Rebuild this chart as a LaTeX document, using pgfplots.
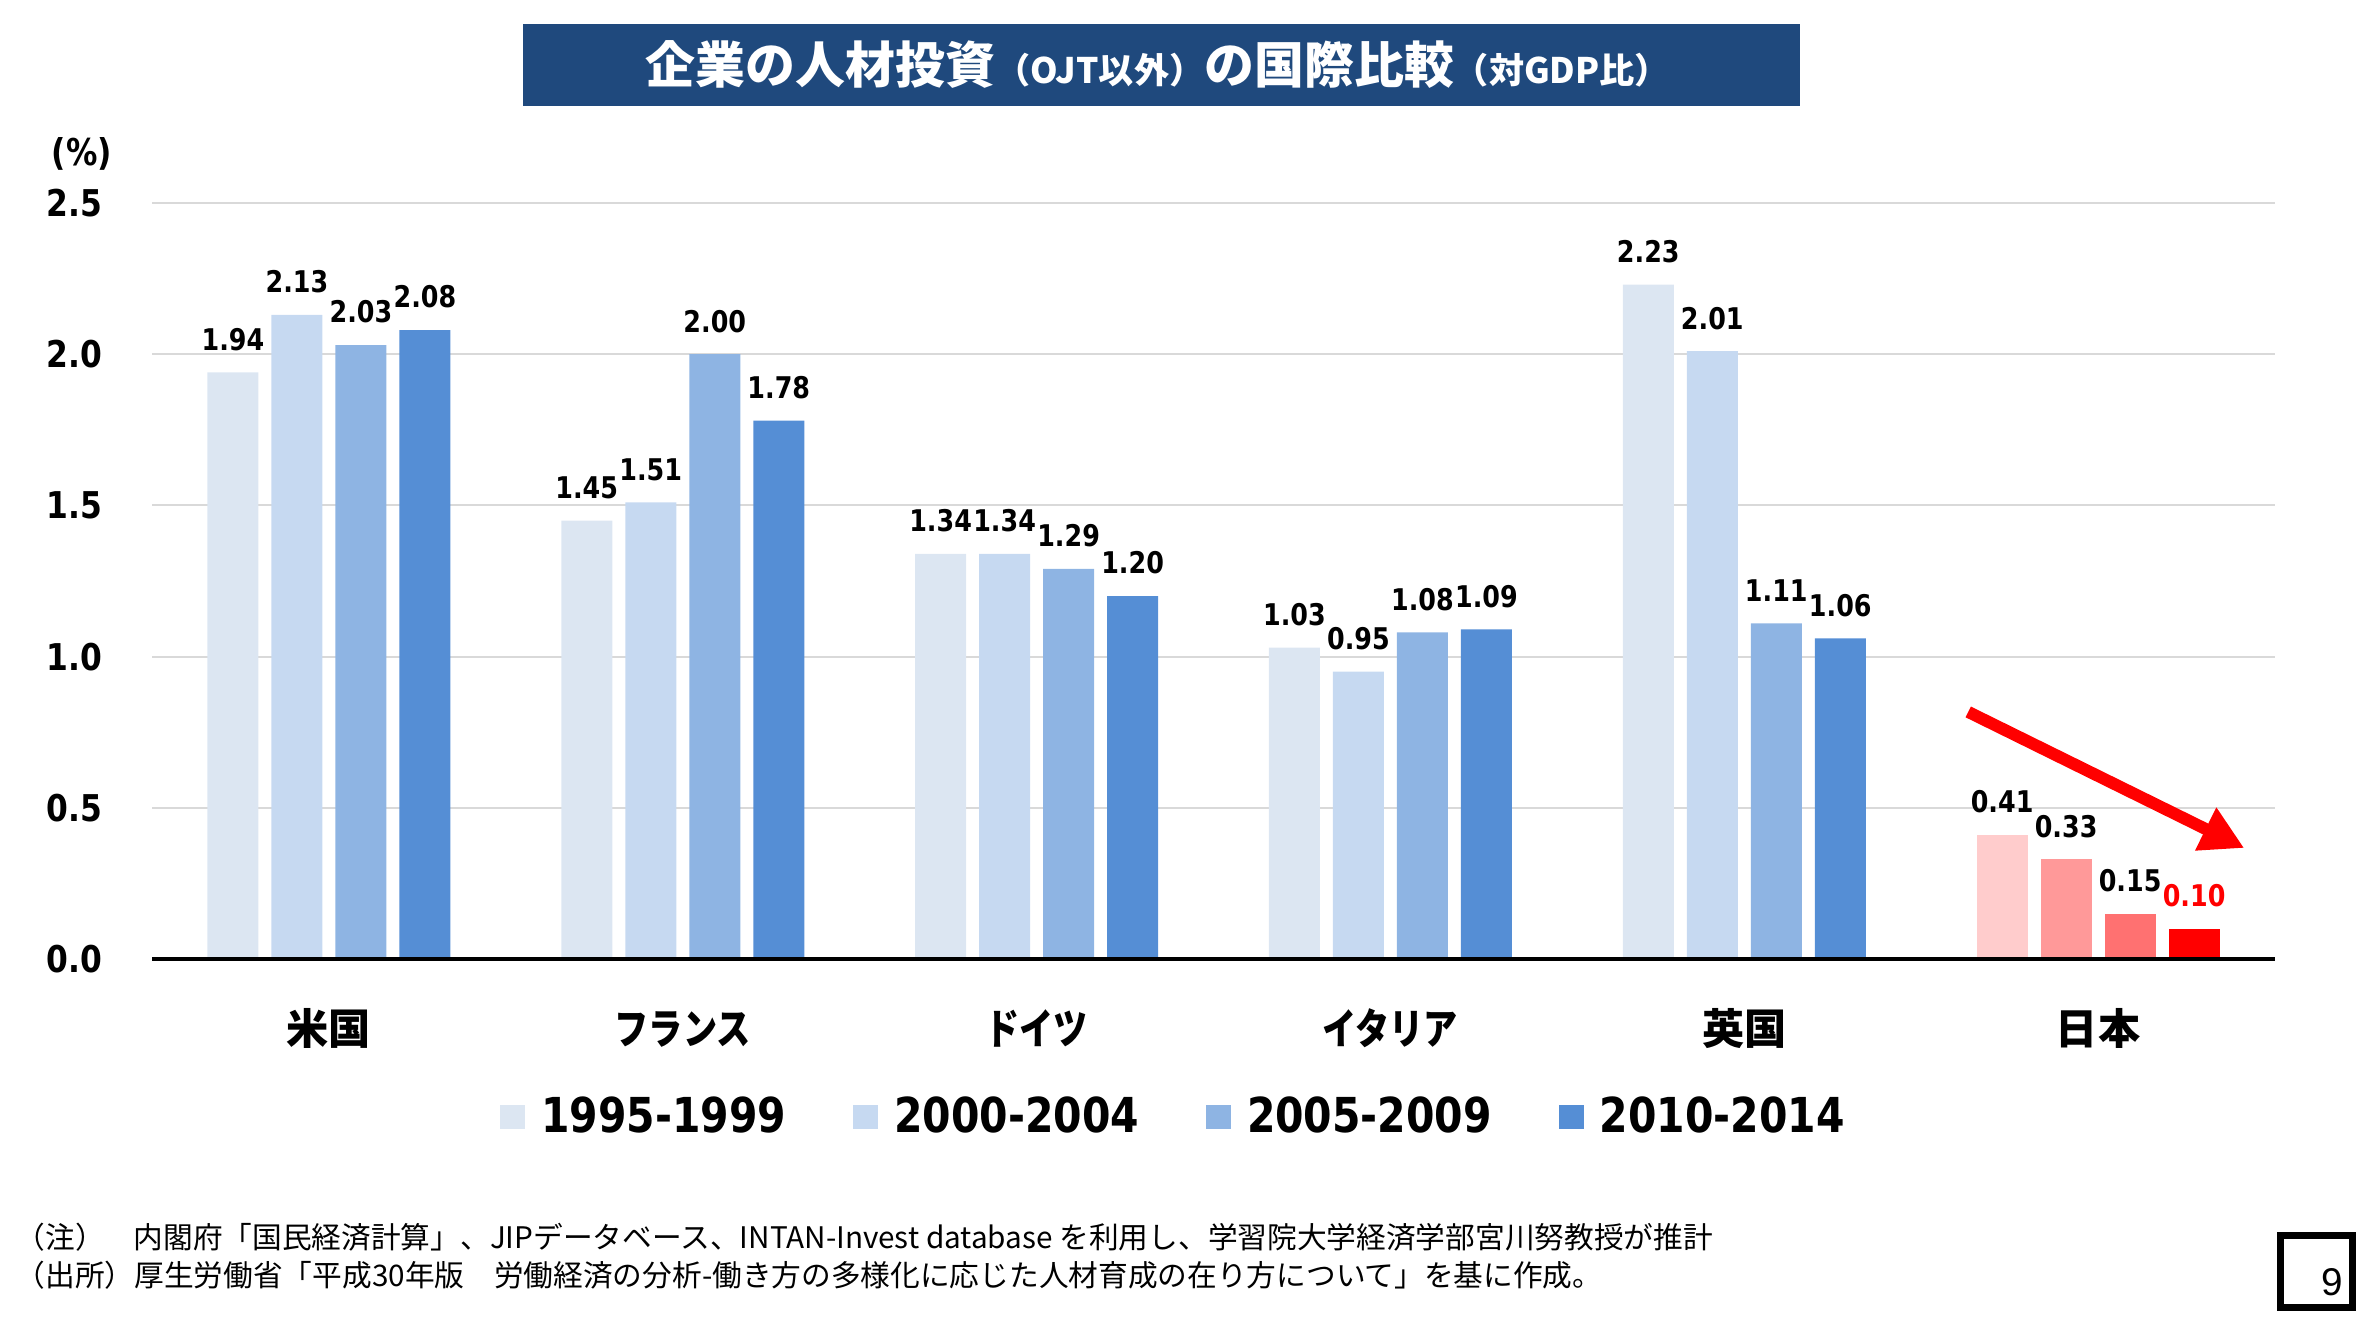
\documentclass[border=0pt]{standalone}
\usepackage{fontspec}
\usepackage{graphicx}
\usepackage{pgfplots}
\pgfplotsset{compat=1.18}
\usetikzlibrary{arrows.meta}
\setmainfont{Noto Sans CJK JP}
\newfontfamily\vb[FakeStretch=0.85]{DejaVu Sans Bold}
\newfontfamily\lib{Liberation Sans}
\definecolor{c1}{HTML}{DCE6F2}
\definecolor{c2}{HTML}{C6D9F1}
\definecolor{c3}{HTML}{8EB4E3}
\definecolor{c4}{HTML}{558ED5}
\definecolor{j1}{HTML}{FFCCCC}
\definecolor{j2}{HTML}{FF9999}
\definecolor{j3}{HTML}{FF7171}
\definecolor{j4}{HTML}{FF0000}
\definecolor{titlebg}{HTML}{1F497D}
\definecolor{gridc}{HTML}{D9D9D9}
\newcommand{\kn}[1]{\scalebox{0.81}[1]{#1}}
\begin{document}
\begin{tikzpicture}
\path[use as bounding box] (0,0) rectangle (23.79cm,13.34cm);
% title
\fill[titlebg] (5.23cm,12.28cm) rectangle (18.00cm,13.10cm);
\node[text=white, font=\bfseries, inner sep=0pt] at (11.58cm,12.69cm)
 {{\fontsize{14.2pt}{16pt}\selectfont 企業の人材投資}{\fontsize{10pt}{12pt}\selectfont （OJT以外）}{\fontsize{14.2pt}{16pt}\selectfont の国際比較}{\fontsize{10pt}{12pt}\selectfont （対GDP比）}};
\node[font=\vb\fontsize{10.5pt}{12pt}\selectfont, inner sep=0pt] at (0.82cm,11.80cm) {(\%)};
\begin{axis}[
  at={(1.52cm,3.75cm)}, anchor=south west,
  scale only axis, width=21.23cm, height=7.56cm,
  ybar, bar width=0.51cm,
  xmin=-0.5, xmax=5.5, ymin=0, ymax=2.5, enlargelimits=false,
  clip=false,
  axis line style={draw=none}, tick style={draw=none},
  ymajorgrids, grid style={gridc, line width=0.6pt},
  ytick={0,0.5,1,1.5,2,2.5},
  yticklabels={0.0,0.5,1.0,1.5,2.0,2.5},
  yticklabel style={font=\vb\fontsize{10.5pt}{12pt}\selectfont, anchor=east, inner sep=0pt, xshift=-0.49cm},
  xtick={0,1,2,3,4,5},
  xticklabels={米国,\kn{フランス},\kn{ドイツ},\kn{イタリア},英国,日本},
  xticklabel style={font=\bfseries\fontsize{12pt}{14pt}\selectfont, anchor=base, inner sep=0pt, yshift=-0.71cm},
  /pgf/number format/assume math mode=true,
  nodes near coords={\pgfmathprintnumber[fixed,fixed zerofill,precision=2]{\pgfplotspointmeta}},
  nodes near coords style={font=\vb\fontsize{8.5pt}{10pt}\selectfont, inner sep=0pt, anchor=south, yshift=0.21cm},
  legend style={draw=none, fill=none, inner sep=0pt, at={(rel axis cs:0.4807,-0.209)}, anchor=center,
    font=\vb\fontsize{13.7pt}{15pt}\selectfont, legend columns=4,
    /tikz/every odd column/.append style={column sep=0.16cm},
    /tikz/every even column/.append style={column sep=0.67cm},
    cells={anchor=west}, nodes={inner sep=0pt}},
  legend image code/.code={\fill[#1] (0cm,-0.12cm) rectangle (0.25cm,0.12cm);},
]
\addplot[fill=c1, draw=none, bar shift=-0.96cm] coordinates {(0,1.94) (1,1.45) (2,1.34) (3,1.03) (4,2.23)};
\addlegendentry{1995-1999}
\addplot[fill=c2, draw=none, bar shift=-0.32cm] coordinates {(0,2.13) (1,1.51) (2,1.34) (3,0.95) (4,2.01)};
\addlegendentry{2000-2004}
\addplot[fill=c3, draw=none, bar shift=0.32cm] coordinates {(0,2.03) (1,2.00) (2,1.29) (3,1.08) (4,1.11)};
\addlegendentry{2005-2009}
\addplot[fill=c4, draw=none, bar shift=0.96cm] coordinates {(0,2.08) (1,1.78) (2,1.20) (3,1.09) (4,1.06)};
\addlegendentry{2010-2014}
\addplot[fill=j1, draw=none, bar shift=-0.96cm, forget plot] coordinates {(5,0.41)};
\addplot[fill=j2, draw=none, bar shift=-0.32cm, forget plot] coordinates {(5,0.33)};
\addplot[fill=j3, draw=none, bar shift=0.32cm, forget plot] coordinates {(5,0.15)};
\addplot[fill=j4, draw=none, bar shift=0.96cm, forget plot, every node near coord/.append style={text=red}] coordinates {(5,0.10)};
\draw[black, line width=0.9pt] (rel axis cs:0,0) -- (rel axis cs:1,0);
\draw[red, line width=0.12cm, -{Triangle[length=0.43cm,width=0.45cm]}] (axis cs:4.633,0.817) -- (axis cs:5.413,0.367);
\end{axis}
% footnotes
\node[anchor=west, inner sep=0pt, font=\fontsize{8.45pt}{10pt}\selectfont] at (0.15cm,0.97cm) {（注）};
\node[anchor=west, inner sep=0pt, font=\fontsize{8.45pt}{10pt}\selectfont] at (1.33cm,0.97cm) {内閣府「国民経済計算」、JIPデータベース、INTAN-Invest database を利用し、学習院大学経済学部宮川努教授が推計};
\node[anchor=west, inner sep=0pt, font=\fontsize{8.45pt}{10pt}\selectfont] at (0.15cm,0.59cm) {（出所）厚生労働省「平成30年版　労働経済の分析-働き方の多様化に応じた人材育成の在り方について」を基に作成。};
% page number
\draw[black, line width=0.07cm] (22.80cm,0.26cm) rectangle (23.52cm,0.98cm);
\node[font=\lib\fontsize{11pt}{13pt}\selectfont, inner sep=0pt] at (23.32cm,0.52cm) {9};
\end{tikzpicture}
\end{document}
